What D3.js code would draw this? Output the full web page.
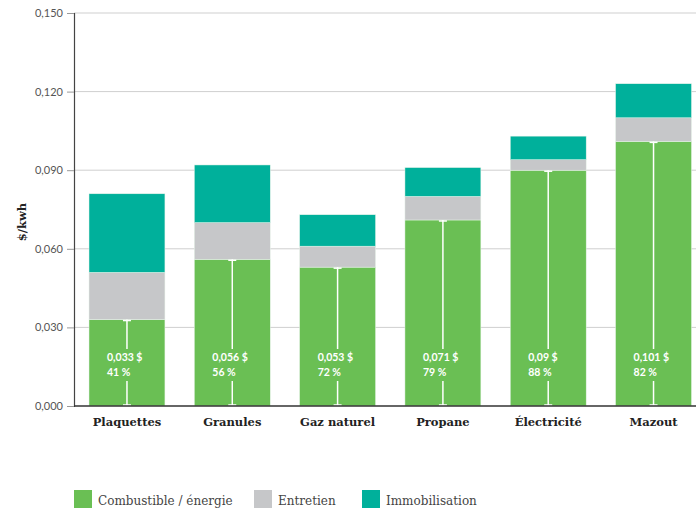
<!DOCTYPE html>
<html><head><meta charset="utf-8">
<script src="https://cdn.jsdelivr.net/npm/d3@7"></script>
<style>body{margin:0;background:#fff}</style>
</head><body>
<svg id="c" width="696" height="508"></svg>
<script>
const categories = ["Plaquettes","Granules","Gaz naturel","Propane","Électricité","Mazout"];
const combustible = [0.033,0.056,0.053,0.071,0.090,0.101];
const entretien = [0.018,0.014,0.008,0.009,0.004,0.009];
const immobilisation = [0.030,0.022,0.012,0.011,0.009,0.013];
const valueLabels = ["0,033 $","0,056 $","0,053 $","0,071 $","0,09 $","0,101 $"];
const pctLabels = ["41 %","56 %","72 %","79 %","88 %","82 %"];
const yTicks = [0,0.03,0.06,0.09,0.12,0.15];
const seriesNames = ["Combustible / énergie","Entretien","Immobilisation"];
const colors = ["#6abf54","#c6c7c9","#00b09b"];

const svg = d3.select("#c");
const x0 = 74, x1 = 696, yTop = 13, yBot = 406;
const x = d3.scaleBand().domain(categories).range([89, 691.5]).paddingInner(0.279).paddingOuter(0);
const y = d3.scaleLinear().domain([0,0.15]).range([yBot, yTop]);

// gridlines
svg.append("g").selectAll("line").data(yTicks.slice(1)).join("line")
  .attr("x1", x0).attr("x2", x1).attr("y1", d=>y(d)).attr("y2", d=>y(d))
  .attr("stroke","#cfcfcf").attr("stroke-width",1);

// y axis
const yAxis = d3.axisLeft(y).tickValues(yTicks).tickSize(7).tickPadding(4)
  .tickFormat(d => d3.format(".3f")(d).replace(".",","));
const ga = svg.append("g").attr("transform",`translate(${x0},0)`).call(yAxis);
ga.select(".domain").attr("stroke","#444").attr("stroke-width",1.2);
ga.selectAll(".tick line").attr("stroke","#999");
ga.selectAll(".tick text").attr("font-family","Lato, sans-serif").attr("font-size",11).attr("fill","#555");

// stacked data
const rows = categories.map((c,i)=>({cat:c, a:combustible[i], b:entretien[i], c:immobilisation[i]}));
const stack = d3.stack().keys(["a","b","c"])(rows);
svg.append("g").selectAll("g").data(stack).join("g").attr("fill",(d,i)=>colors[i])
  .selectAll("rect").data(d=>d).join("rect")
  .attr("x", d=>x(d.data.cat)).attr("width", x.bandwidth())
  .attr("y", d=>y(d[1])).attr("height", d=>y(d[0])-y(d[1]))
  .attr("stroke","#e8f3ea").attr("stroke-width",0.5);

// white marker lines inside green bars
const mk = svg.append("g");
categories.forEach((c,i)=>{
  const cx = x(c) + x.bandwidth()/2;
  const top = y(combustible[i]);
  const g = mk.append("g").attr("stroke","#fff").attr("stroke-width",1.5);
  g.append("line").attr("x1",cx).attr("x2",cx).attr("y1",top).attr("y2",349);
  g.append("line").attr("x1",cx).attr("x2",cx).attr("y1",381).attr("y2",yBot);
  g.append("line").attr("x1",cx-4).attr("x2",cx+4).attr("y1",top+1).attr("y2",top+1);
  g.append("line").attr("x1",cx-4).attr("x2",cx+4).attr("y1",yBot-1).attr("y2",yBot-1);
  const tx = x(c) + 18;
  mk.append("text").attr("x",tx).attr("y",361).text(valueLabels[i])
    .attr("font-family","Lato, sans-serif").attr("font-weight","bold").attr("font-size",10.5).attr("fill","#fff");
  mk.append("text").attr("x",tx).attr("y",376).text(pctLabels[i])
    .attr("font-family","Lato, sans-serif").attr("font-weight","bold").attr("font-size",10.5).attr("fill","#fff");
});

// baseline
svg.append("line").attr("x1",x0).attr("x2",x1).attr("y1",yBot).attr("y2",yBot)
  .attr("stroke","#333").attr("stroke-width",1.5);

// x labels
const xAxis = d3.axisBottom(x).tickSize(0).tickPadding(12);
const gx = svg.append("g").attr("transform",`translate(0,${yBot})`).call(xAxis);
gx.select(".domain").remove();
gx.selectAll(".tick text").attr("font-family","'DejaVu Serif', serif").attr("font-weight","bold")
  .attr("font-size",11.5).attr("fill","#222");

// y title
svg.append("text").attr("transform","translate(26,222) rotate(-90)").attr("text-anchor","middle")
  .text("$/kwh").attr("font-family","'DejaVu Serif', serif").attr("font-weight","bold").attr("font-size",11.5).attr("fill","#222");

// legend
const legX = [74, 254, 362];
const lg = svg.append("g");
seriesNames.forEach((n,i)=>{
  lg.append("rect").attr("x",legX[i]).attr("y",490).attr("width",18).attr("height",18).attr("fill",colors[i]);
  lg.append("text").attr("x",legX[i]+24).attr("y",505).text(n)
    .attr("font-family","'DejaVu Serif', serif").attr("font-size",12).attr("fill","#444");
});
</script>
</body></html>
